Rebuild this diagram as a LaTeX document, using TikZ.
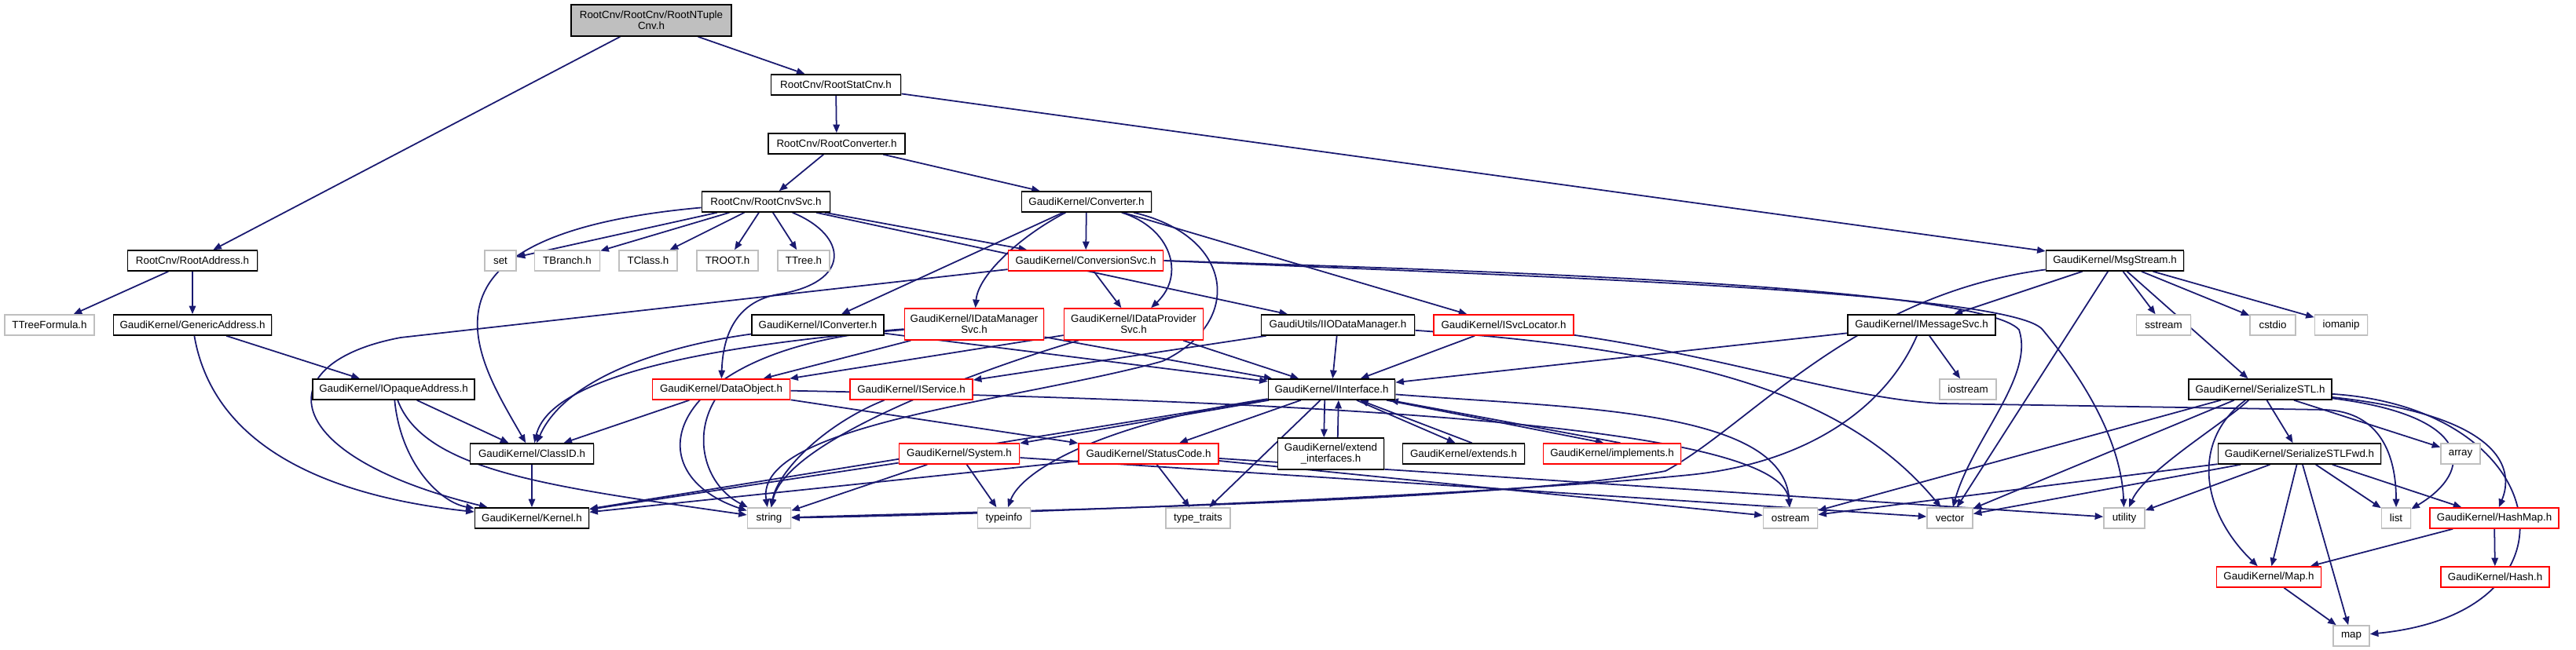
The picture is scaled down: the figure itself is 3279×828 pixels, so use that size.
\documentclass[tikz,border=0pt]{standalone}
\usepackage{fontspec}
\setmainfont{Liberation Sans}
\usetikzlibrary{arrows.meta, shadows, backgrounds}
\definecolor{azulmedianoche}{HTML}{191970}
\definecolor{grisclaro}{HTML}{BFBFBF}
\definecolor{rojotruncado}{HTML}{FF0000}
\colorlet{colFlecha}{azulmedianoche}
\colorlet{colSistema}{grisclaro}
\colorlet{colTruncado}{rojotruncado}
\tikzset{
  cajaBase/.style={
    rectangle, draw=black, line width=0.45pt, fill=white,
    minimum height=0.26cm, inner sep=0pt, align=center,
    font=\fontsize{3.8}{4.1}\selectfont
  },
  cajaArchivo/.style={cajaBase,
    drop shadow={shadow xshift=0.35pt, shadow yshift=-0.35pt, fill=black!45}},
  cajaRaiz/.style={cajaArchivo, fill=colSistema},
  cajaTruncada/.style={cajaBase, draw=colTruncado,
    drop shadow={shadow xshift=0.35pt, shadow yshift=-0.35pt, fill=colTruncado!35}},
  cajaSistema/.style={cajaBase, draw=colSistema,
    drop shadow={shadow xshift=0.35pt, shadow yshift=-0.35pt, fill=black!10}},
  cajaDoble/.style={minimum height=0.40cm},
  flecha/.style={-{Triangle[length=3pt, width=2.4pt]}, line width=0.5pt, colFlecha},
}
\begin{document}
\begin{tikzpicture}[x=0.01cm, y=-0.01cm]
  \useasboundingbox (0,0) rectangle (3279,828);
  % filas de cabeceras
  \node[cajaRaiz, cajaDoble, minimum width=2.04cm] (ntuple) at (829,26) {RootCnv/RootCnv/RootNTuple\\Cnv.h};
  \node[cajaArchivo, minimum width=1.65cm] (statcnv) at (1064,108) {RootCnv/RootStatCnv.h};
  \node[cajaArchivo, minimum width=1.74cm] (rootconv) at (1065,183) {RootCnv/RootConverter.h};
  \node[cajaArchivo, minimum width=1.63cm] (cnvsvc) at (975,257) {RootCnv/RootCnvSvc.h};
  \node[cajaArchivo, minimum width=1.65cm] (converter) at (1383,257) {GaudiKernel/Converter.h};

  \node[cajaArchivo, minimum width=1.65cm] (rootaddr) at (245,332) {RootCnv/RootAddress.h};
  \node[cajaSistema, minimum width=0.40cm] (set) at (637,332) {set};
  \node[cajaSistema, minimum width=0.83cm] (tbranch) at (722,332) {TBranch.h};
  \node[cajaSistema, minimum width=0.74cm] (tclass) at (825,332) {TClass.h};
  \node[cajaSistema, minimum width=0.78cm] (troot) at (926,332) {TROOT.h};
  \node[cajaSistema, minimum width=0.66cm] (ttree) at (1023,332) {TTree.h};
  \node[cajaTruncada, minimum width=1.97cm] (convsvc) at (1382,332) {GaudiKernel/ConversionSvc.h};
  \node[cajaArchivo, minimum width=1.75cm] (msgstream) at (2692,332) {GaudiKernel/MsgStream.h};

  \node[cajaSistema, minimum width=1.14cm] (ttreeform) at (63,414) {TTreeFormula.h};
  \node[cajaArchivo, minimum width=2.01cm] (genaddr) at (245,414) {GaudiKernel/GenericAddress.h};
  \node[cajaArchivo, minimum width=1.68cm] (iconverter) at (1041,414) {GaudiKernel/IConverter.h};
  \node[cajaTruncada, cajaDoble, minimum width=1.77cm] (idatamgr) at (1240,413) {GaudiKernel/IDataManager\\Svc.h};
  \node[cajaTruncada, cajaDoble, minimum width=1.77cm] (idataprov) at (1443,413) {GaudiKernel/IDataProvider\\Svc.h};
  \node[cajaArchivo, minimum width=1.95cm] (iiodm) at (1703,414) {GaudiUtils/IIODataManager.h};
  \node[cajaTruncada, minimum width=1.78cm] (isvcloc) at (1914,414) {GaudiKernel/ISvcLocator.h};
  \node[cajaArchivo, minimum width=1.88cm] (imsgsvc) at (2446,414) {GaudiKernel/IMessageSvc.h};
  \node[cajaSistema, minimum width=0.69cm] (sstream) at (2754,414) {sstream};
  \node[cajaSistema, minimum width=0.58cm] (cstdio) at (2893,414) {cstdio};
  \node[cajaSistema, minimum width=0.67cm] (iomanip) at (2980,414) {iomanip};

  \node[cajaArchivo, minimum width=2.06cm] (iopaque) at (501,496) {GaudiKernel/IOpaqueAddress.h};
  \node[cajaTruncada, minimum width=1.75cm] (dataobj) at (918,496) {GaudiKernel/DataObject.h};
  \node[cajaTruncada, minimum width=1.56cm] (iservice) at (1160,496) {GaudiKernel/IService.h};
  \node[cajaArchivo, minimum width=1.61cm] (iinterface) at (1695,496) {GaudiKernel/IInterface.h};
  \node[cajaSistema, minimum width=0.72cm] (iostream) at (2505,496) {iostream};
  \node[cajaArchivo, minimum width=1.82cm] (serstl) at (2877,496) {GaudiKernel/SerializeSTL.h};

  \node[cajaArchivo, minimum width=1.57cm] (classid) at (677,578) {GaudiKernel/ClassID.h};
  \node[cajaTruncada, minimum width=1.53cm] (system) at (1221,578) {GaudiKernel/System.h};
  \node[cajaTruncada, minimum width=1.78cm] (statuscode) at (1462,578) {GaudiKernel/StatusCode.h};
  \node[cajaArchivo, cajaDoble, minimum width=1.35cm] (extendif) at (1694,578) {GaudiKernel/extend\\\_interfaces.h};
  \node[cajaArchivo, minimum width=1.55cm] (extends) at (1863,578) {GaudiKernel/extends.h};
  \node[cajaTruncada, minimum width=1.75cm] (implements) at (2052,578) {GaudiKernel/implements.h};
  \node[cajaArchivo, minimum width=2.07cm] (serstlfwd) at (2927,578) {GaudiKernel/SerializeSTLFwd.h};
  \node[cajaSistema, minimum width=0.50cm] (array) at (3132,578) {array};

  \node[cajaArchivo, minimum width=1.45cm] (kernel) at (677,660) {GaudiKernel/Kernel.h};
  \node[cajaSistema, minimum width=0.55cm] (string) at (979,660) {string};
  \node[cajaSistema, minimum width=0.67cm] (typeinfo) at (1278,660) {typeinfo};
  \node[cajaSistema, minimum width=0.82cm] (typetraits) at (1525,660) {type\_traits};
  \node[cajaSistema, minimum width=0.69cm] (ostream) at (2279,660) {ostream};
  \node[cajaSistema, minimum width=0.58cm] (vector) at (2482,660) {vector};
  \node[cajaSistema, minimum width=0.52cm] (utility) at (2704,660) {utility};
  \node[cajaSistema, minimum width=0.37cm] (list) at (3050,660) {list};
  \node[cajaTruncada, minimum width=1.64cm] (hashmap) at (3175,660) {GaudiKernel/HashMap.h};

  \node[cajaTruncada, minimum width=1.33cm] (mapk) at (2888,735) {GaudiKernel/Map.h};
  \node[cajaTruncada, minimum width=1.38cm] (hash) at (3176,735) {GaudiKernel/Hash.h};
  \node[cajaSistema, minimum width=0.46cm] (stdmap) at (2993,810) {map};

  \begin{scope}[on background layer]
    % dependencias
    \draw[flecha] (ntuple) -- (statcnv);
    \draw[flecha] (ntuple) -- (rootaddr);
    \draw[flecha] (statcnv) -- (rootconv);
    \draw[flecha] (statcnv) -- (msgstream);
    \draw[flecha] (rootconv) -- (cnvsvc);
    \draw[flecha] (rootconv) -- (converter);
    \foreach \destino in {set, tbranch, tclass, troot, ttree, convsvc, iiodm}
      \draw[flecha] (cnvsvc) -- (\destino);
    \draw[flecha] (cnvsvc) .. controls (500,300) and (610,460) .. (classid);
    \draw[flecha] (cnvsvc) .. controls (1080,300) and (1085,360) .. (990,375)
                           .. controls (935,385) and (920,430) .. (dataobj);

    \draw[flecha] (rootaddr) -- (ttreeform);
    \draw[flecha] (rootaddr) -- (genaddr);
    \draw[flecha] (genaddr) -- (iopaque);
    \draw[flecha] (genaddr) .. controls (270,560) and (400,630) .. (kernel);
    \draw[flecha] (iopaque) -- (classid);
    \draw[flecha] (iopaque) .. controls (510,590) and (560,640) .. (kernel);
    \draw[flecha] (iopaque) .. controls (540,600) and (700,620) .. (string);
    \draw[flecha] (classid) -- (kernel);

    \draw[flecha] (converter) -- (iconverter);
    \draw[flecha] (converter) .. controls (1300,300) and (1245,350) .. (idatamgr);
    \draw[flecha] (converter) -- (convsvc);
    \draw[flecha] (converter) .. controls (1490,290) and (1510,350) .. (idataprov);
    \draw[flecha] (converter) -- (isvcloc);
    \draw[flecha] (converter) .. controls (1570,300) and (1585,410) .. (1480,460)
                              .. controls (1300,510) and (960,540) .. (string);

    \draw[flecha] (convsvc) -- (idataprov);
    \draw[flecha] (convsvc) -- (510,430) .. controls (340,462) and (350,580) .. (kernel);
    \draw[flecha] (convsvc.east) .. controls (1900,345) and (2520,365) .. (2570,420)
                                 .. controls (2590,480) and (2510,560) .. (vector);
    \draw[flecha] (convsvc.east) .. controls (1900,350) and (2560,370) .. (2600,420)
                                 .. controls (2650,480) and (2700,560) .. (utility);

    \draw[flecha] (iconverter) -- (iinterface);
    \draw[flecha] (iconverter) .. controls (850,440) and (720,480) .. (classid);
    \draw[flecha] (idatamgr) -- (dataobj);
    \draw[flecha] (idatamgr) .. controls (900,440) and (700,480) .. (classid);
    \draw[flecha] (idatamgr) -- (iinterface);
    \draw[flecha] (idatamgr) .. controls (850,440) and (800,600) .. (string);
    \draw[flecha] (idataprov) -- (iinterface);
    \draw[flecha] (idataprov) -- (dataobj);
    \draw[flecha] (idataprov) .. controls (1250,470) and (1000,560) .. (string);
    \draw[flecha] (iiodm) -- (iinterface);
    \draw[flecha] (iiodm) -- (iservice);
    \draw[flecha] (iiodm) .. controls (2150,445) and (2350,500) .. (vector);
    \draw[flecha] (isvcloc) -- (iinterface);
    \draw[flecha] (isvcloc) .. controls (2200,455) and (2350,508) .. (2470,514)
                            -- (2960,522) .. controls (3030,525) and (3050,580) .. (list);
    \draw[flecha] (iservice) .. controls (1050,540) and (990,600) .. (string);

    \draw[flecha] (dataobj) -- (classid);
    \draw[flecha] (dataobj) .. controls (880,560) and (900,620) .. (string);
    \draw[flecha] (dataobj) -- (statuscode);
    \draw[flecha] (dataobj) .. controls (1900,515) and (2270,560) .. (ostream);

    \foreach \destino in {kernel, system, statuscode, typetraits}
      \draw[flecha] (iinterface) -- (\destino);
    \draw[flecha] (iinterface) .. controls (1400,540) and (1300,600) .. (typeinfo);
    \draw[flecha] (iinterface) .. controls (2000,520) and (2270,520) .. (ostream);
    \draw[flecha] ([xshift=-2.5pt]iinterface.south) -- ([xshift=-2.5pt]extendif.north);
    \draw[flecha] ([xshift=2.5pt]extendif.north) -- ([xshift=2.5pt]iinterface.south);
    \draw[flecha] (iinterface) -- ([xshift=-3pt]extends.north);
    \draw[flecha] ([xshift=3pt]extends.north) -- (iinterface);
    \draw[flecha] (iinterface) -- ([xshift=-3pt]implements.north);
    \draw[flecha] ([xshift=3pt]implements.north) -- (iinterface);

    \foreach \destino in {kernel, string, typeinfo, vector}
      \draw[flecha] (system) -- (\destino);
    \foreach \destino in {kernel, typetraits, ostream, utility}
      \draw[flecha] (statuscode) -- (\destino);

    \foreach \destino in {imsgsvc, vector, sstream, cstdio, iomanip, serstl}
      \draw[flecha] (msgstream) -- (\destino);
    \draw[flecha] (msgstream) .. controls (2360,375) and (2230,540) .. (2120,600)
                              .. controls (1900,640) and (1300,650) .. (string);
    \draw[flecha] (imsgsvc) -- (iinterface);
    \draw[flecha] (imsgsvc) -- (iostream);
    \draw[flecha] (imsgsvc) .. controls (2400,520) and (2300,590) .. (2150,605)
                            .. controls (1900,630) and (1300,655) .. (string);

    \foreach \destino in {ostream, vector, serstlfwd, array}
      \draw[flecha] (serstl) -- (\destino);
    \draw[flecha] (serstl) .. controls (2830,540) and (2730,600) .. (utility);
    \draw[flecha] (serstl) .. controls (2790,560) and (2800,650) .. (mapk);
    \draw[flecha] (serstl) .. controls (3150,530) and (3150,600) .. (list);
    \draw[flecha] (serstl) .. controls (3190,530) and (3200,600) .. (hashmap);
    \draw[flecha] (serstl) .. controls (3250,520) and (3300,780) .. (stdmap);
    \foreach \destino in {ostream, vector, utility, mapk, stdmap, list, hashmap}
      \draw[flecha] (serstlfwd) -- (\destino);
    \draw[flecha] (hashmap) -- (mapk);
    \draw[flecha] (hashmap) -- (hash);
    \draw[flecha] (mapk) -- (stdmap);
  \end{scope}
\end{tikzpicture}
\end{document}
